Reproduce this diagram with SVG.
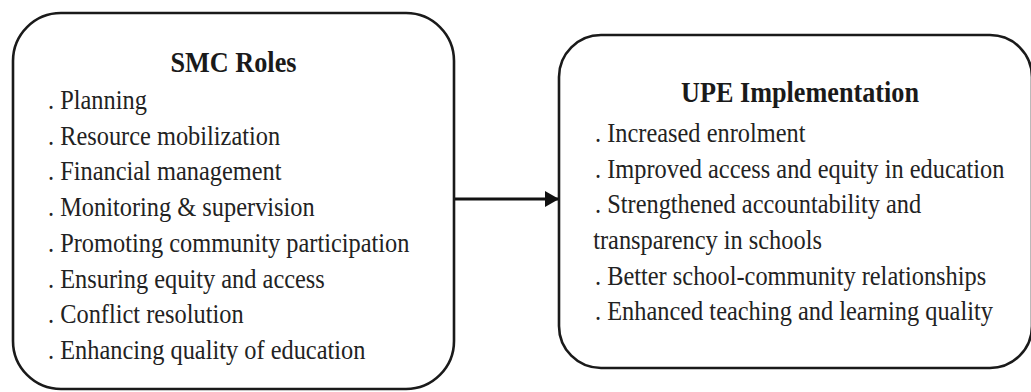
<svg xmlns="http://www.w3.org/2000/svg" width="1031" height="392" viewBox="0 0 1031 392">
<style>
.box{fill:#fff;stroke:#1a1a1a;stroke-width:2.6}
.t{font-family:"Liberation Serif","Times New Roman",serif;font-size:26.5px;fill:#222}
.h{font-family:"Liberation Serif","Times New Roman",serif;font-size:28.5px;font-weight:bold;fill:#1a1a1a;text-anchor:middle}
.c{stroke:#111;stroke-width:3;fill:none}
</style>
<defs>
<marker id="ah" markerWidth="14" markerHeight="16" refX="13" refY="8" orient="auto" markerUnits="userSpaceOnUse">
<path d="M0,0 L14,8 L0,16 Z" fill="#111"/>
</marker>
</defs>
<rect width="1031" height="392" fill="#fff"/>
<g id="smc-roles">
<rect class="box" x="13" y="13" width="441" height="376" rx="48" ry="48"/>
<g transform="translate(233.5,0) scale(0.92,1)">
<text class="h" x="0" y="72">SMC Roles</text>
</g>
<g transform="translate(48,0) scale(0.92,1)">
<text class="t" x="0" y="109">. Planning</text>
<text class="t" x="0" y="145">. Resource mobilization</text>
<text class="t" x="0" y="180">. Financial management</text>
<text class="t" x="0" y="216">. Monitoring &amp; supervision</text>
<text class="t" x="0" y="252">. Promoting community participation</text>
<text class="t" x="0" y="288">. Ensuring equity and access</text>
<text class="t" x="0" y="323">. Conflict resolution</text>
<text class="t" x="0" y="359">. Enhancing quality of education</text>
</g>
</g>
<g id="upe-implementation">
<rect class="box" x="559" y="35" width="473" height="333" rx="42" ry="42"/>
<g transform="translate(800,0) scale(0.92,1)">
<text class="h" x="0" y="102">UPE Implementation</text>
</g>
<g transform="translate(595,0) scale(0.92,1)">
<text class="t" x="0" y="142">. Increased enrolment</text>
<text class="t" x="0" y="178">. Improved access and equity in education</text>
<text class="t" x="0" y="213">. Strengthened accountability and</text>
<text class="t" x="-2" y="249">transparency in schools</text>
<text class="t" x="0" y="285">. Better school-community relationships</text>
<text class="t" x="0" y="320">. Enhanced teaching and learning quality</text>
</g>
</g>
<g id="connectors">
<line class="c" x1="455" y1="199" x2="558" y2="199" marker-end="url(#ah)"/>
</g>
</svg>
